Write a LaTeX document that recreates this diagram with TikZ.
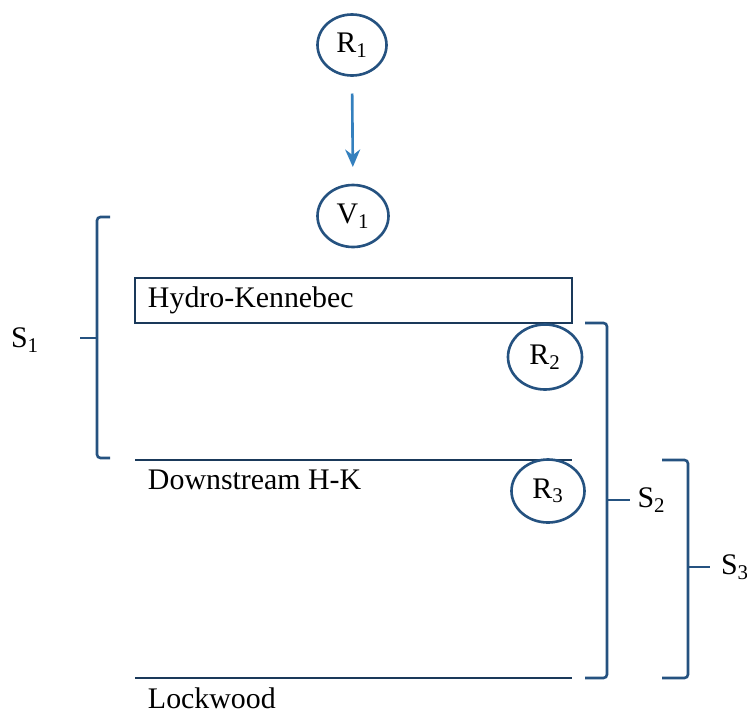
\documentclass[tikz,border=0pt]{standalone}
\usepackage{fontspec}
\setmainfont{Liberation Serif}
\usepackage{tikz}
\usetikzlibrary{shapes.geometric}
\usetikzlibrary{arrows.meta}
\usetikzlibrary{positioning}
\definecolor{riverblue}{RGB}{37,82,128}
\definecolor{flowblue}{RGB}{52,128,190}
\tikzset{
% Define standard arrow tip
>={Stealth[length=3.5mm, width=3mm]}
}

\begin{document}
\begin{tikzpicture}[line width=1.5pt, inner sep=0, outer sep=0,
  font=\fontsize{17}{20}\selectfont]
  \useasboundingbox (0,0) rectangle (14.94,-14.28);

  % reaches
  \node[ellipse, draw=riverblue,
    minimum width = 1.38cm,
    minimum height = 1.22cm] (r1) at (7.04, -0.9) {R\textsubscript{1}};
  \node[ellipse, draw=riverblue,
    minimum width = 1.42cm,
    minimum height = 1.24cm] (v1) at (7.06, -4.32) {V\textsubscript{1}};
  \draw[->, draw=flowblue, shorten <=0.36cm, shorten >=0.36cm] (r1.south) -- (v1.north);

  % dams
  \node[rectangle, draw=riverblue!70!black,
    anchor=north west,
    minimum height = 0.9cm,
    minimum width = 8.74cm] (hk) at (2.7, -5.56) {};
  \node[anchor=west] (hk-text) at ([xshift=0.26cm]hk.west) {Hydro-Kennebec};

  \coordinate (ds-l) at (2.7, -9.2);
  \coordinate (ds-r) at (11.44, -9.2);
  \draw[draw=riverblue!70!black] (ds-l) -- (ds-r);
  \node[anchor=north west] (ds-text) at ([xshift=0.26cm, yshift=-0.2cm]ds-l) {Downstream H-K};

  \coordinate (lw-l) at (2.7, -13.56);
  \coordinate (lw-r) at (11.44, -13.56);
  \draw[draw=riverblue!70!black] (lw-l) -- (lw-r);
  \node[anchor=north west] (lw-text) at ([xshift=0.26cm, yshift=-0.2cm]lw-l) {Lockwood};

  \node[ellipse, draw=riverblue,
    minimum width = 1.48cm,
    minimum height = 1.3cm] (r2) at (10.9, -7.14) {R\textsubscript{2}};
  \node[ellipse, draw=riverblue,
    minimum width = 1.46cm,
    minimum height = 1.26cm] (r3) at (10.96, -9.82) {R\textsubscript{3}};

  % segments
  \draw[draw=riverblue, rounded corners=2pt] (2.2, -4.34) -- (1.94, -4.34) -- (1.94, -9.16) -- (2.2, -9.16);
  \coordinate (s1-tip) at (1.6, -6.76);
  \draw[draw=riverblue] (1.94, -6.76) -- (s1-tip);
  \node (s1) at (0.5, -6.8) {S\textsubscript{1}};

  \draw[draw=riverblue, rounded corners=2pt] (11.7, -6.46) -- (12.14, -6.46) -- (12.14, -13.56) -- (11.7, -13.56);
  \coordinate (s2-tip) at (12.6, -10.0);
  \draw[draw=riverblue] (12.14, -10.0) -- (s2-tip);
  \node[anchor=west] (s2) at ([xshift=0.15cm]s2-tip) {S\textsubscript{2}};

  \draw[draw=riverblue, rounded corners=2pt] (13.24, -9.2) -- (13.76, -9.2) -- (13.76, -13.56) -- (13.24, -13.56);
  \coordinate (s3-tip) at (14.2, -11.34);
  \draw[draw=riverblue] (13.76, -11.34) -- (s3-tip);
  \node[anchor=west] (s3) at ([xshift=0.22cm]s3-tip) {S\textsubscript{3}};
\end{tikzpicture}
\end{document}
